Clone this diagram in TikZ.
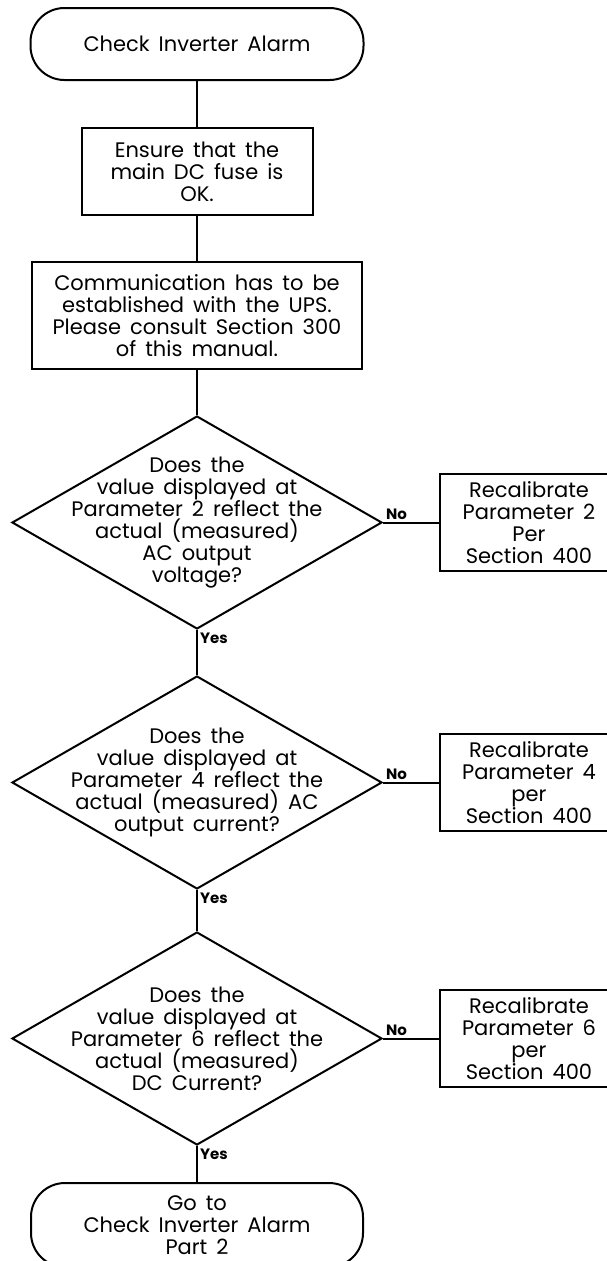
\documentclass[tikz,border=0pt]{standalone}
\usepackage{fontspec}
\setmainfont{Poppins}
\usetikzlibrary{shapes.geometric, positioning}
\newcommand\wordgap{\spaceskip=9pt\relax}

\begin{document}
\begin{tikzpicture}[
        node distance=45pt and 56pt,
        line width=2pt,
        font={\fontsize{21}{22}\selectfont\wordgap},
        terminal/.style={rectangle, draw, rounded corners=34pt, minimum width=333pt, minimum height=72pt, align=center},
        block/.style={rectangle, draw, align=center, inner sep=2pt},
        decision/.style={diamond, draw, align=center, inner sep=-70pt, minimum width=370pt, minimum height=213pt},
        recal/.style={rectangle, draw, align=center, minimum width=178pt, minimum height=97pt},
        tag/.style={font={\fontsize{15}{17}\selectfont\bfseries}, inner sep=2pt},
        line/.style={draw}
    ]
    \useasboundingbox (0,0) rectangle (606pt,-1261pt);

    % Nodes
    \node [terminal] (start) at (197pt,-44pt) {Check Inverter Alarm};
    \node [block, minimum width=231pt, minimum height=87pt, below=46pt of start] (fuse) {Ensure that the\\ main DC fuse is\\ OK.};
    \node [block, minimum width=330pt, minimum height=107pt, below=of fuse] (comm) {Communication has to be\\ established with the UPS.\\ Please consult Section 300\\ of this manual.};
    \node [decision, below=of comm] (volt) {Does the\\ value displayed at\\ Parameter 2 reflect the\\ actual (measured)\\ AC output\\ voltage?};
    \node [recal, right=of volt] (recvolt) {Recalibrate\\ Parameter 2\\ Per\\ Section 400};
    \node [decision, below=of volt] (acamp) {Does the\\ value displayed at\\ Parameter 4 reflect the\\ actual (measured) AC\\ output current?};
    \node [recal, right=of acamp] (recacamp) {Recalibrate\\ Parameter 4\\ per\\ Section 400};
    \node [decision, below=41pt of acamp] (dcamp) {Does the\\ value displayed at\\ Parameter 6 reflect the\\ actual (measured)\\ DC Current?};
    \node [recal, right=of dcamp] (recdcamp) {Recalibrate\\ Parameter 6\\ per\\ Section 400};
    \node [terminal, minimum width=332pt, minimum height=84pt, below=36pt of dcamp] (next) {Go to\\ Check Inverter Alarm\\ Part 2};

    % Edges
    \path [line] (start) -- (fuse);
    \path [line] (fuse) -- (comm);
    \path [line] (comm) -- (volt);
    \path [line] (volt) -- node [tag, anchor=south west, pos=0] {No} (recvolt);
    \path [line] (volt) -- node [tag, anchor=north west, pos=0] {Yes} (acamp);
    \path [line] (acamp) -- node [tag, anchor=south west, pos=0] {No} (recacamp);
    \path [line] (acamp) -- node [tag, anchor=north west, pos=0] {Yes} (dcamp);
    \path [line] (dcamp) -- node [tag, anchor=south west, pos=0] {No} (recdcamp);
    \path [line] (dcamp) -- node [tag, anchor=north west, pos=0] {Yes} (next);

\end{tikzpicture}
\end{document}
